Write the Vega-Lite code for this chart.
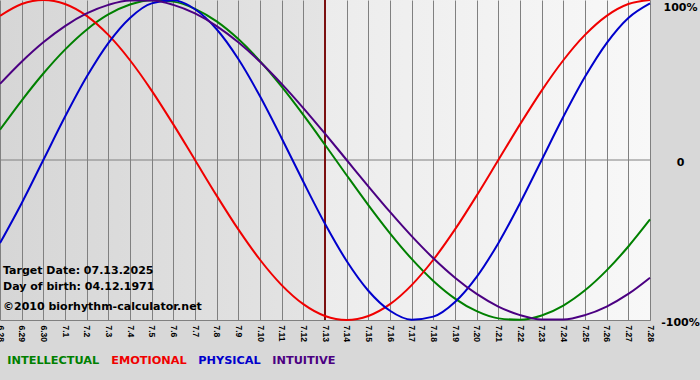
{
  "$schema": "https://vega.github.io/schema/vega-lite/v6.json",
  "width": 650,
  "height": 320,
  "autosize": {"type": "none"},
  "padding": {"left": 0, "top": 0, "right": 50, "bottom": 60},
  "background": "#d8d8d8",
  "view": {
    "stroke": null,
    "fill": {
      "gradient": "linear", "x1": 0, "y1": 0, "x2": 1, "y2": 0,
      "stops": [
        {"offset": 0, "color": "#d6d6d6"},
        {"offset": 0.5, "color": "#e4e4e4"},
        {"offset": 0.5, "color": "#ececec"},
        {"offset": 1, "color": "#f8f8f8"}
      ]
    }
  },
  "config": {"view": {"stroke": null}},
  "layer": [
    {
      "data": {"values": [{}]},
      "mark": {"type": "rule", "color": "#808080", "strokeWidth": 1},
      "encoding": {"y": {"datum": 0, "type": "quantitative"}}
    },
    {
      "data": {"values": [{}]},
      "mark": {"type": "rule", "color": "#7b1010", "strokeWidth": 2},
      "encoding": {"x": {"datum": "7.13", "type": "ordinal"}}
    },
    {
      "data": {"values": [
        {"date": "6.28", "INTELLECTUAL": 0.1893, "EMOTIONAL": 0.9010, "PHYSICAL": -0.5196, "INTUITIVE": 0.4759},
        {"date": "6.29", "INTELLECTUAL": 0.3717, "EMOTIONAL": 0.9749, "PHYSICAL": -0.2698, "INTUITIVE": 0.6142},
        {"date": "6.30", "INTELLECTUAL": 0.5406, "EMOTIONAL": 1.0, "PHYSICAL": 0.0, "INTUITIVE": 0.7357},
        {"date": "7.1", "INTELLECTUAL": 0.6901, "EMOTIONAL": 0.9749, "PHYSICAL": 0.2698, "INTUITIVE": 0.8372},
        {"date": "7.2", "INTELLECTUAL": 0.8146, "EMOTIONAL": 0.9010, "PHYSICAL": 0.5196, "INTUITIVE": 0.9158},
        {"date": "7.3", "INTELLECTUAL": 0.9096, "EMOTIONAL": 0.7818, "PHYSICAL": 0.7308, "INTUITIVE": 0.9694},
        {"date": "7.4", "INTELLECTUAL": 0.9718, "EMOTIONAL": 0.6235, "PHYSICAL": 0.8879, "INTUITIVE": 0.9966},
        {"date": "7.5", "INTELLECTUAL": 0.9989, "EMOTIONAL": 0.4339, "PHYSICAL": 0.9791, "INTUITIVE": 0.9966},
        {"date": "7.6", "INTELLECTUAL": 0.9898, "EMOTIONAL": 0.2225, "PHYSICAL": 0.9977, "INTUITIVE": 0.9694},
        {"date": "7.7", "INTELLECTUAL": 0.9450, "EMOTIONAL": 0.0, "PHYSICAL": 0.9423, "INTUITIVE": 0.9158},
        {"date": "7.8", "INTELLECTUAL": 0.8660, "EMOTIONAL": -0.2225, "PHYSICAL": 0.8170, "INTUITIVE": 0.8372},
        {"date": "7.9", "INTELLECTUAL": 0.7557, "EMOTIONAL": -0.4339, "PHYSICAL": 0.6311, "INTUITIVE": 0.7357},
        {"date": "7.10", "INTELLECTUAL": 0.6182, "EMOTIONAL": -0.6235, "PHYSICAL": 0.3984, "INTUITIVE": 0.6142},
        {"date": "7.11", "INTELLECTUAL": 0.4582, "EMOTIONAL": -0.7818, "PHYSICAL": 0.1362, "INTUITIVE": 0.4759},
        {"date": "7.12", "INTELLECTUAL": 0.2817, "EMOTIONAL": -0.9010, "PHYSICAL": -0.1362, "INTUITIVE": 0.3247},
        {"date": "7.13", "INTELLECTUAL": 0.0951, "EMOTIONAL": -0.9749, "PHYSICAL": -0.3984, "INTUITIVE": 0.1646},
        {"date": "7.14", "INTELLECTUAL": -0.0951, "EMOTIONAL": -1.0, "PHYSICAL": -0.6311, "INTUITIVE": 0.0},
        {"date": "7.15", "INTELLECTUAL": -0.2817, "EMOTIONAL": -0.9749, "PHYSICAL": -0.8170, "INTUITIVE": -0.1646},
        {"date": "7.16", "INTELLECTUAL": -0.4582, "EMOTIONAL": -0.9010, "PHYSICAL": -0.9423, "INTUITIVE": -0.3247},
        {"date": "7.17", "INTELLECTUAL": -0.6182, "EMOTIONAL": -0.7818, "PHYSICAL": -0.9977, "INTUITIVE": -0.4759},
        {"date": "7.18", "INTELLECTUAL": -0.7557, "EMOTIONAL": -0.6235, "PHYSICAL": -0.9791, "INTUITIVE": -0.6142},
        {"date": "7.19", "INTELLECTUAL": -0.8660, "EMOTIONAL": -0.4339, "PHYSICAL": -0.8879, "INTUITIVE": -0.7357},
        {"date": "7.20", "INTELLECTUAL": -0.9450, "EMOTIONAL": -0.2225, "PHYSICAL": -0.7308, "INTUITIVE": -0.8372},
        {"date": "7.21", "INTELLECTUAL": -0.9898, "EMOTIONAL": 0.0, "PHYSICAL": -0.5196, "INTUITIVE": -0.9158},
        {"date": "7.22", "INTELLECTUAL": -0.9989, "EMOTIONAL": 0.2225, "PHYSICAL": -0.2698, "INTUITIVE": -0.9694},
        {"date": "7.23", "INTELLECTUAL": -0.9718, "EMOTIONAL": 0.4339, "PHYSICAL": 0.0, "INTUITIVE": -0.9966},
        {"date": "7.24", "INTELLECTUAL": -0.9096, "EMOTIONAL": 0.6235, "PHYSICAL": 0.2698, "INTUITIVE": -0.9966},
        {"date": "7.25", "INTELLECTUAL": -0.8146, "EMOTIONAL": 0.7818, "PHYSICAL": 0.5196, "INTUITIVE": -0.9694},
        {"date": "7.26", "INTELLECTUAL": -0.6901, "EMOTIONAL": 0.9010, "PHYSICAL": 0.7308, "INTUITIVE": -0.9158},
        {"date": "7.27", "INTELLECTUAL": -0.5406, "EMOTIONAL": 0.9749, "PHYSICAL": 0.8879, "INTUITIVE": -0.8372},
        {"date": "7.28", "INTELLECTUAL": -0.3717, "EMOTIONAL": 1.0, "PHYSICAL": 0.9791, "INTUITIVE": -0.7357}
      ]},
      "transform": [
        {"fold": ["INTELLECTUAL", "EMOTIONAL", "PHYSICAL", "INTUITIVE"], "as": ["series", "value"]}
      ],
      "mark": {"type": "line", "strokeWidth": 2, "interpolate": "monotone"},
      "encoding": {
        "x": {
          "field": "date", "type": "ordinal",
          "scale": {"type": "point", "padding": 0, "domain": ["6.28","6.29","6.30","7.1","7.2","7.3","7.4","7.5","7.6","7.7","7.8","7.9","7.10","7.11","7.12","7.13","7.14","7.15","7.16","7.17","7.18","7.19","7.20","7.21","7.22","7.23","7.24","7.25","7.26","7.27","7.28"]},
          "axis": {
            "title": null, "labelAngle": 90, "labelAlign": "left", "labelBaseline": "middle",
            "labelFont": "Liberation Sans", "labelFontSize": 8.5,
            "labelFontWeight": "bold", "labelColor": "#000000", "grid": true, "gridColor": "#808080",
            "gridOpacity": 1, "gridWidth": 1, "ticks": false, "tickSize": 0, "domainColor": "#808080", "labelPadding": 5,
            "labelOverlap": false, "labelBound": false
          }
        },
        "y": {
          "field": "value", "type": "quantitative",
          "scale": {"domain": [-1, 1], "nice": false, "zero": false},
          "axis": {
            "orient": "right", "title": null, "values": [-1, 0, 1],
            "labelExpr": "datum.value == 1 ? '100%' : datum.value == 0 ? '0' : '-100%'",
            "grid": false, "ticks": false, "tickSize": 0, "labelAlign": "center", "labelPadding": 30,
            "labelBaseline": "middle",
            "labelOffset": {"condition": {"test": "datum.value == 1", "value": 7}, "value": 2},
            "labelFont": "DejaVu Sans", "labelFontWeight": "bold", "labelFontSize": 11,
            "labelColor": "#000000", "domainColor": "#808080"
          }
        },
        "color": {
          "field": "series", "type": "nominal",
          "scale": {"domain": ["INTELLECTUAL", "EMOTIONAL", "PHYSICAL", "INTUITIVE"], "range": ["#008000", "#f00000", "#0000cc", "#4b0082"]},
          "legend": {
            "orient": "none", "legendX": -4, "legendY": 355, "direction": "horizontal", "title": null,
            "symbolSize": 1, "symbolStrokeWidth": 0, "symbolOpacity": 0, "labelOffset": 0,
            "columnPadding": -7, "labelFont": "DejaVu Sans", "labelFontWeight": "bold", "labelFontSize": 11.3,
            "padding": 0,
            "encode": {"labels": {"update": {"fill": {"scale": "color", "field": "value"}}}}
          }
        }
      }
    },
    {
      "data": {"values": [{}]},
      "mark": {"type": "text", "align": "left", "baseline": "middle", "dx": 3, "font": "DejaVu Sans", "fontWeight": "bold", "fontSize": 11, "color": "#000000", "text": "Target Date: 07.13.2025"},
      "encoding": {"x": {"datum": "6.28", "type": "ordinal"}, "y": {"datum": -0.694, "type": "quantitative"}}
    },
    {
      "data": {"values": [{}]},
      "mark": {"type": "text", "align": "left", "baseline": "middle", "dx": 3, "font": "DejaVu Sans", "fontWeight": "bold", "fontSize": 11, "color": "#000000", "text": "Day of birth: 04.12.1971"},
      "encoding": {"x": {"datum": "6.28", "type": "ordinal"}, "y": {"datum": -0.794, "type": "quantitative"}}
    },
    {
      "data": {"values": [{}]},
      "mark": {"type": "text", "align": "left", "baseline": "middle", "dx": 3, "font": "DejaVu Sans", "fontWeight": "bold", "fontSize": 11, "color": "#000000", "text": "©2010 biorhythm-calculator.net"},
      "encoding": {"x": {"datum": "6.28", "type": "ordinal"}, "y": {"datum": -0.919, "type": "quantitative"}}
    }
  ]
}
